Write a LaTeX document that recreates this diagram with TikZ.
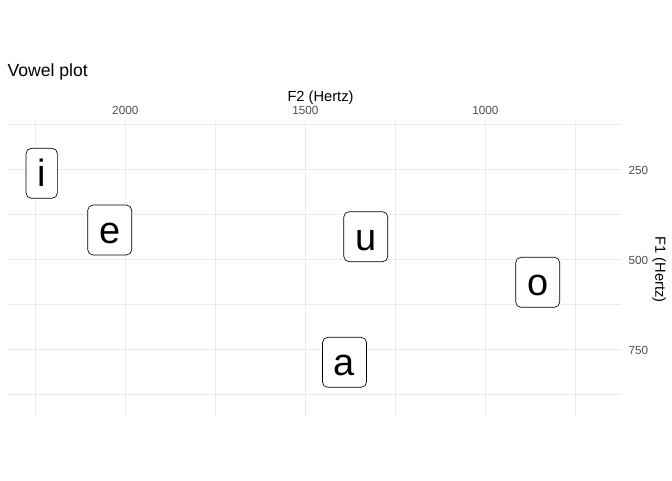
\documentclass[tikz,border=0pt]{standalone}
\usepackage{fontspec}
\setmainfont{Liberation Sans}
\definecolor{gridcol}{HTML}{EBEBEB}
\definecolor{tickcol}{HTML}{4D4D4D}
\tikzset{
  majorgrid/.style={draw=gridcol, line width=1.07pt},
  minorgrid/.style={draw=gridcol, line width=0.53pt},
  ticklab/.style={text=tickcol, font=\fontsize{8.8pt}{10pt}\selectfont, inner sep=0pt},
  axtitle/.style={text=black, font=\fontsize{11pt}{13pt}\selectfont, inner sep=0pt},
  vowel/.style={draw=black, line width=0.5pt, rounded corners=4pt, fill=white,
    font=\fontsize{28.45pt}{34pt}\selectfont, inner xsep=8.6pt, inner ysep=0pt,
    text height=29pt, text depth=8.5pt}
}
\begin{document}
\begin{tikzpicture}[x=0.75pt, y=-0.75pt]
\useasboundingbox (0,0) rectangle (672,480);
% minor grid
\foreach \xx in {35.3,215.3,395.3,575.3} \draw[minorgrid] (\xx,121) -- (\xx,417.3);
\foreach \yy in {124.3,214.3,304.3,394.3} \draw[minorgrid] (7.3,\yy) -- (620.7,\yy);
% major grid
\foreach \xx in {125.3,305.3,485.3} \draw[majorgrid] (\xx,121) -- (\xx,417.3);
\foreach \yy in {169.3,259.3,349.3} \draw[majorgrid] (7.3,\yy) -- (620.7,\yy);
% titles
\node[anchor=base west, inner sep=0pt, font=\fontsize{13.2pt}{15pt}\selectfont] (title) at (7.3,76) {Vowel plot};
\node[axtitle, anchor=base] (xtitle) at (320.5,101.5) {F2 (Hertz)};
\node[axtitle, anchor=base, rotate=-90] (ytitle) at (655.3,269.7) {F1 (Hertz)};
% tick labels
\node[ticklab, anchor=base] (x2000) at (125.3,114.6) {2000};
\node[ticklab, anchor=base] (x1500) at (305.3,114.6) {1500};
\node[ticklab, anchor=base] (x1000) at (485.3,114.6) {1000};
\node[ticklab, anchor=base west] (y250) at (628.3,174.7) {250};
\node[ticklab, anchor=base west] (y500) at (628.3,264.7) {500};
\node[ticklab, anchor=base west] (y750) at (628.3,354.7) {750};
% vowels
\node[vowel] (vi) at (41.7,173.3) {i};
\node[vowel] (ve) at (109.7,230) {e};
\node[vowel] (vu) at (365.8,236.7) {u};
\node[vowel] (vo) at (537.7,282.3) {o};
\node[vowel] (va) at (344.5,362.3) {a};
\end{tikzpicture}
\end{document}
